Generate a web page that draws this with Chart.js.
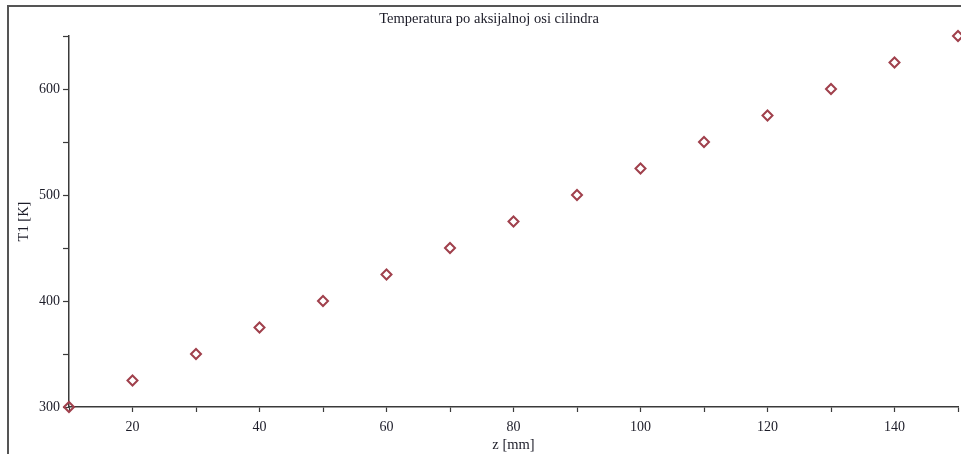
<!DOCTYPE html>
<html>
<head>
<meta charset="utf-8">
<title>Temperatura po aksijalnoj osi cilindra</title>
<script src="https://cdn.jsdelivr.net/npm/chart.js@4/dist/chart.umd.min.js"></script>
<style>
  html, body { margin: 0; padding: 0; background: #fff; }
  #wrap { width: 961px; height: 454px; position: relative; }
</style>
</head>
<body>
<div id="wrap"><canvas id="chart-temp" width="961" height="454"></canvas></div>
<script>
// z position along the cylinder axis [mm] and temperature T1 [K]
var zValues = [10, 20, 30, 40, 50, 60, 70, 80, 90, 100, 110, 120, 130, 140, 150];
var t1Values = [300, 325, 350, 375, 400, 425, 450, 475, 500, 525, 550, 575, 600, 625, 650];

var titleText = "Temperatura po aksijalnoj osi cilindra";
var xTitle = "z [mm]";
var yTitle = "T1 [K]";

var serif = "'Liberation Serif', 'DejaVu Serif', serif";
var inkColor = "#1c1c28";
var axisColor = "#3a3a3a";
var markColor = "#a0404c";

// grey frame along top and left edge + the plot title (sits a bit right of centre)
var framePlugin = {
    id: "frame",
    beforeDraw: function (chart) {
        var ctx = chart.ctx;
        ctx.save();
        ctx.strokeStyle = "#555";
        ctx.lineWidth = 2;
        ctx.beginPath();
        ctx.moveTo(8, 454);
        ctx.lineTo(8, 6);
        ctx.lineTo(961, 6);
        ctx.stroke();
        ctx.fillStyle = inkColor;
        ctx.font = "14.5px " + serif;
        ctx.textAlign = "center";
        ctx.textBaseline = "middle";
        ctx.fillText(titleText, 489, 19);
        ctx.restore();
    }
};

var points = zValues.map(function (z, i) { return {x: z, y: t1Values[i]}; });

var chartTemp = new Chart(document.getElementById("chart-temp"), {
    type: "scatter",
    data: {
        datasets: [{
            label: "T1",
            data: points,
            pointStyle: "rectRot",
            pointRadius: 5,
            pointHoverRadius: 5,
            borderColor: markColor,
            backgroundColor: "rgba(255,255,255,0)",
            borderWidth: 2,
            clip: false
        }]
    },
    options: {
        responsive: false,
        animation: false,
        layout: { autoPadding: false, padding: { top: 36, right: 3, left: 0, bottom: 0 } },
        plugins: {
            legend: { display: false },
            tooltip: { enabled: false },
            title: { display: false }
        },
        scales: {
            x: {
                type: "linear",
                min: 10,
                max: 150,
                afterFit: function (scale) {
                    scale.height = 47;
                    scale.paddingLeft = 0;
                    scale.paddingRight = 0;
                },
                border: { display: true, color: axisColor, width: 1.5 },
                grid: { drawOnChartArea: false, drawTicks: true, tickLength: 5, tickColor: axisColor, tickWidth: 1.2 },
                ticks: {
                    stepSize: 10,
                    autoSkip: false,
                    maxRotation: 0,
                    padding: 7,
                    color: inkColor,
                    font: { family: serif, size: 14 },
                    callback: function (v) { return v % 20 === 0 ? String(v) : ""; }
                },
                title: {
                    display: true,
                    text: xTitle,
                    color: inkColor,
                    font: { family: serif, size: 14.5 },
                    padding: { top: 0, bottom: 0 }
                }
            },
            y: {
                type: "linear",
                min: 300,
                max: 650,
                afterFit: function (scale) { scale.width = 69; },
                border: { display: true, color: axisColor, width: 1.5 },
                grid: { drawOnChartArea: false, drawTicks: true, tickLength: 6, tickColor: axisColor, tickWidth: 1.2 },
                ticks: {
                    stepSize: 50,
                    autoSkip: false,
                    padding: 3,
                    color: inkColor,
                    font: { family: serif, size: 14 },
                    callback: function (v) { return v % 100 === 0 ? String(v) : ""; }
                },
                title: {
                    display: true,
                    text: yTitle,
                    color: inkColor,
                    font: { family: serif, size: 14.5 },
                    padding: { top: 15, bottom: 0 }
                }
            }
        }
    },
    plugins: [framePlugin]
});
</script>
</body>
</html>
